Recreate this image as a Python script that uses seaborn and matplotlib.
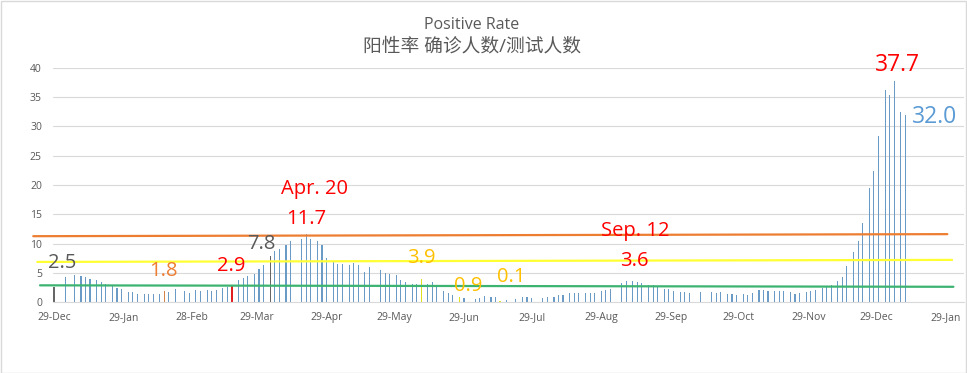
import pandas as pd
import numpy as np
import matplotlib.pyplot as plt
import seaborn as sns
from matplotlib.patches import Rectangle

# data: positive rate (%) by day counted from start_date
start_date = '2021-12-29'
day_offsets = [0, 5, 9, 12, 14, 16, 19, 21, 23, 26, 28, 30, 33, 35, 37, 40, 42, 44, 47, 49,
               51, 54, 58, 60, 63, 65, 68, 70, 72, 75, 77, 79, 82, 84, 86, 89, 91, 93, 96, 98,
               100, 103, 105, 110, 112, 114, 117, 119, 121, 124, 126, 128, 131, 133, 135, 138, 140, 145, 147, 149,
               152, 154, 156, 159, 161, 163, 166, 168, 170, 173, 175, 177, 180, 182, 187, 189, 191, 194, 196, 198,
               201, 205, 208, 210, 212, 217, 219, 222, 224, 226, 229, 231, 233, 236, 238, 240, 243, 245, 247, 252,
               254, 257, 259, 261, 264, 266, 268, 271, 273, 275, 278, 280, 282, 287, 292, 294, 296, 299, 301, 303,
               306, 308, 310, 313, 315, 317, 320, 322, 324, 327, 329, 331, 334, 336, 338, 341, 343, 345, 348, 350,
               352, 355, 357, 359, 362, 364, 366, 369, 371, 373, 376, 378]
positive_rate = [2.5, 4.2, 4.6, 4.45, 4.3, 3.9, 3.75, 3.5, 3.1, 2.9, 2.4, 2.2, 1.75, 1.7, 1.3, 1.4, 1.4, 1.4, 1.4, 1.8,
                 1.7, 2.2, 1.9, 1.55, 2.0, 1.95, 2.05, 1.95, 2.1, 2.4, 2.55, 2.9, 3.75, 4.15, 4.4, 4.85, 5.65, 6.3, 7.8, 8.7,
                 9.1, 9.75, 10.4, 10.8, 11.7, 10.8, 10.4, 9.8, 7.55, 6.85, 6.5, 6.5, 6.4, 6.7, 6.3, 5.15, 5.9, 5.5, 4.9, 4.8,
                 4.55, 3.75, 3.45, 3.1, 3.1, 3.9, 3.1, 3.35, 2.8, 1.8, 1.6, 1.2, 0.9, 0.6, 0.45, 0.6, 1.0, 0.8, 0.8, 0.1,
                 0.4, 0.55, 0.8, 0.8, 0.68, 0.68, 0.8, 0.8, 1.15, 1.15, 1.55, 1.6, 1.6, 1.6, 1.6, 1.6, 1.95, 2.0, 2.3, 3.3,
                 3.65, 3.6, 3.5, 3.3, 2.9, 2.85, 2.6, 2.2, 2.2, 1.8, 1.7, 1.7, 1.5, 1.7, 1.7, 1.55, 1.7, 1.4, 1.4, 1.2,
                 1.4, 1.2, 1.55, 2.0, 2.05, 1.95, 1.95, 1.95, 1.95, 1.7, 1.45, 1.55, 1.7, 1.95, 2.1, 2.4, 2.6, 2.95, 3.65, 4.3,
                 6.15, 8.55, 10.4, 13.5, 19.5, 22.4, 28.4, 36.2, 35.4, 37.7, 32.5, 32.0]

tick_dates = ['2021-12-29', '2022-01-29', '2022-02-28', '2022-03-29', '2022-04-29', '2022-05-29', '2022-06-29',
              '2022-07-29', '2022-08-29', '2022-09-29', '2022-10-29', '2022-11-29', '2022-12-29', '2023-01-29']

# highlighted bars and their labels
highlight_kind = {0: 'grey', 49: 'orange', 79: 'red', 96: 'grey', 163: 'yellow', 180: 'yellow', 198: 'yellow'}
labelled_days = [0, 49, 79, 96, 112, 163, 180, 198, 257, 373, 378]
dated_label_days = [112, 257]

# reference lines drawn across the chart
ref_start_days = [-9.2, -7.4, -6.2]
ref_end_days = [396.6, 398.7, 399.3]
ref_start_levels = [11.25, 6.85, 2.85]
ref_end_levels = [11.6, 7.2, 2.6]

# styles
bar_palette = {'normal': '#5b9bd5', 'grey': '#666666', 'orange': '#ed7d31', 'red': '#ff0000', 'yellow': '#ffff00'}
ref_colors = ['#ed7d31', '#ffff33', '#3cb371']
label_style = {
    0: ('#595959', 14.5, 7.7, 24),
    49: ('#ed7d31', 14.5, -1, 20.5),
    79: ('#ff0000', 14.5, -1, 18.7),
    96: ('#595959', 14.5, -9, 12),
    112: ('#ff0000', 14.5, 0, 15),
    163: ('#ffc000', 14.5, 0.5, 20.7),
    180: ('#ffc000', 14.5, 9, 11),
    198: ('#ffc000', 14.5, 11.5, 24),
    257: ('#ff0000', 14.5, 1, 20),
    373: ('#ff0000', 16.5, 3, 16),
    378: ('#5b9bd5', 16.5, 29.5, -2.7),
}
date_label_style = {112: (8, 44.6), 257: (2, 50.4)}

sns.set_style('white')
plt.rcParams['font.family'] = ['Open Sans', 'Noto Sans CJK SC', 'DejaVu Sans']

df = pd.DataFrame({'day': day_offsets, 'rate': positive_rate})
df['kind'] = df['day'].map(highlight_kind).fillna('normal')

W, H = 967, 373
fig = plt.figure(figsize=(W / 100, H / 100), dpi=100)
ax = fig.add_axes([53 / W, 71 / H, 911 / W, 234 / H])

sns.barplot(data=df, x='day', y='rate', hue='kind', palette=bar_palette, native_scale=True,
            dodge=False, width=0.25, errorbar=None, legend=False, linewidth=0, ax=ax)

for d0, d1, v0, v1, c in zip(ref_start_days, ref_end_days, ref_start_levels, ref_end_levels, ref_colors):
    sns.lineplot(x=[d0, d1], y=[v0, v1], color=c, lw=1.6, ax=ax, clip_on=False, zorder=3)

start = pd.Timestamp(start_date)
ticks = pd.to_datetime(tick_dates)
ax.set_xticks((ticks - start).days)
ax.set_xticklabels(ticks.strftime('%d-%b'))
ax.set_yticks(range(0, 45, 5))
ax.set_xlim(-0.44, 404)
ax.set_ylim(0, 40)
ax.set_xlabel('')
ax.set_ylabel('')

ax.grid(axis='y', color='#d9d9d9', lw=0.8)
ax.set_axisbelow(True)
sns.despine(ax=ax, left=True)
ax.spines['bottom'].set_color('#d9d9d9')
ax.tick_params(axis='x', length=4, color='#d9d9d9', labelsize=7.5, labelcolor='#595959', pad=3)
ax.tick_params(axis='y', length=0, labelsize=7.5, labelcolor='#595959', pad=8)

rate_by_day = dict(zip(day_offsets, positive_rate))
for d in labelled_days:
    v = rate_by_day[d]
    color, size, dx, dy = label_style[d]
    ax.annotate(f'{v:.1f}', xy=(d, v), xytext=(dx, dy), textcoords='offset pixels',
                ha='center', va='center', color=color, fontsize=size, annotation_clip=False)
for d in dated_label_days:
    v = rate_by_day[d]
    dx, dy = date_label_style[d]
    ax.annotate((start + pd.Timedelta(days=d)).strftime('%b. %d'), xy=(d, v), xytext=(dx, dy),
                textcoords='offset pixels', ha='center', va='center', color='#ff0000', fontsize=14.5,
                annotation_clip=False)

fig.text(472 / W, 1 - 25 / H, 'Positive Rate', ha='center', va='center', fontsize=11.5, color='#595959')
fig.text(472 / W, 1 - 46 / H, '阳性率 确诊人数/测试人数', ha='center', va='center', fontsize=13.5, color='#595959')

fig.patches.append(Rectangle((0.5 / W, 0.5 / H), 1 - 1.5 / W, 1 - 1.5 / H, transform=fig.transFigure,
                             fill=False, edgecolor='#d9d9d9', lw=1))

fig.savefig('out.png', dpi=100)
